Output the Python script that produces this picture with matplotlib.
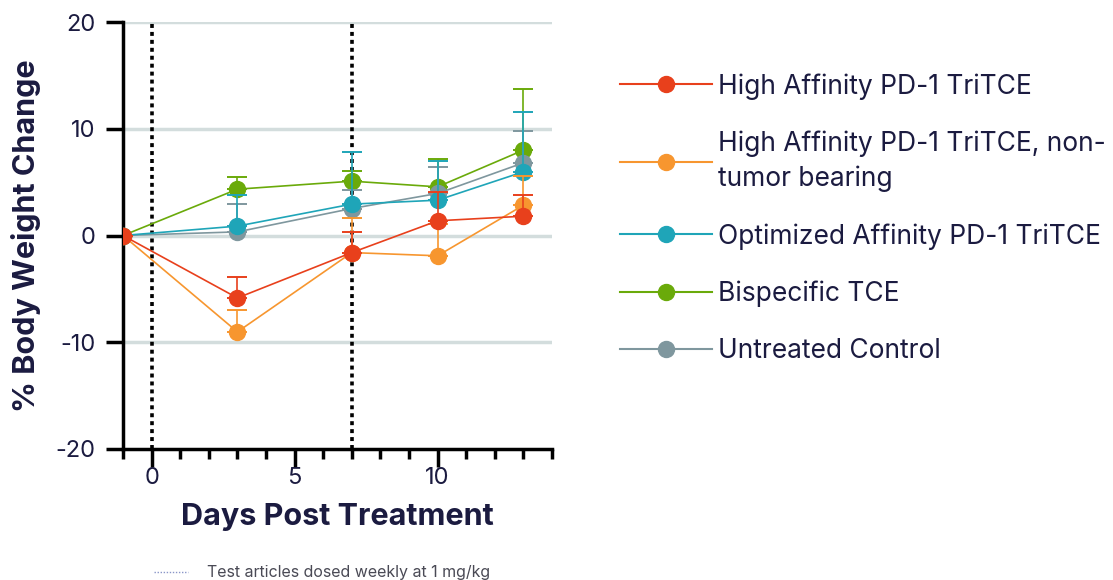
import matplotlib
matplotlib.use("Agg")
import matplotlib.pyplot as plt
from matplotlib.lines import Line2D
import numpy as np

plt.rcParams['font.family'] = ['Inter', 'DejaVu Sans']
plt.rcParams['axes.unicode_minus'] = False

days = [-1, 3, 7, 10, 13]
series_names = [
    "High Affinity PD-1 TriTCE",
    "High Affinity PD-1 TriTCE, non-\ntumor bearing",
    "Optimized Affinity PD-1 TriTCE",
    "Bispecific TCE",
    "Untreated Control",
]
high_aff = [0, -5.85, -1.6, 1.38, 1.81]
high_aff_err = [0, 1.97, 1.94, 2.65, 2.0]
high_aff_nt = [0, -9.03, -1.6, -1.9, 2.84]
high_aff_nt_err = [0, 2.03, 3.2, 3.0, 2.7]
optimized = [0, 0.88, 2.94, 3.31, 5.97]
optimized_err = [0, 2.9, 4.84, 3.66, 5.6]
bispecific = [0, 4.34, 5.09, 4.56, 8.0]
bispecific_err = [0, 1.16, 0.97, 2.6, 5.7]
untreated = [0, 0.34, 2.53, 3.94, 6.81]
untreated_err = [0, 2.6, 1.72, 2.5, 3.0]
dose_days = [0, 7]

colors = ["#e8401c", "#f7962f", "#1fa5b8", "#6aaa0a", "#7f979e"]
values = [high_aff, high_aff_nt, optimized, bispecific, untreated]
errs = [high_aff_err, high_aff_nt_err, optimized_err, bispecific_err, untreated_err]

navy = "#1b1b40"
fig = plt.figure(figsize=(11.13, 5.80), dpi=100)
ax = fig.add_axes([0.1105, 0.2259, 0.3855, 0.7361])

for y in [-10, 0, 10, 20]:
    ax.axhline(y, color="#d3dddd", lw=2.5, zorder=0)
for d in dose_days:
    ax.axvline(d, color="black", lw=2.6, ls=(0, (1.1, 1.1)), zorder=1)

handles = {}
draw_order = [3, 4, 2, 1, 0]
for z, i in enumerate(draw_order):
    v = np.array(values[i]); e = np.array(errs[i])
    ax.errorbar(days, v, yerr=[np.zeros_like(e), e], color=colors[i], lw=1.2,
                elinewidth=1.2, capsize=7, capthick=1.4, marker='o', ms=11.5,
                mec=colors[i], zorder=3 + z)
    handles[i] = Line2D([], [], color=colors[i], lw=1.5, marker='o', ms=11.5)

ax.set_xlim(-1, 14)
ax.set_ylim(-20, 20)
ax.set_xticks([0, 5, 10])
ax.set_xticks(range(-1, 15), minor=True)
ax.set_yticks([-20, -10, 0, 10, 20])
for s in ['top', 'right']:
    ax.spines[s].set_visible(False)
for s in ['left', 'bottom']:
    ax.spines[s].set_linewidth(2.5)
ax.tick_params(axis='y', which='major', length=12, width=2.5, labelsize=17, labelcolor=navy, pad=8)
ax.tick_params(axis='x', which='major', length=13, width=2.5, labelsize=17, labelcolor=navy, pad=0)
ax.tick_params(axis='x', which='minor', length=7, width=2.5)

ax.set_xlabel("Days Post Treatment", fontsize=22, fontweight='bold', color=navy, labelpad=10)
ax.set_ylabel("% Body Weight Change", fontsize=22, fontweight='bold', color=navy, labelpad=10)

leg = fig.legend([handles[i] for i in range(5)], series_names,
                 loc='upper left', bbox_to_anchor=(0.557, 0.874), frameon=False,
                 borderpad=0, borderaxespad=0,
                 fontsize=19, handlelength=3.5, handletextpad=0.23,
                 labelspacing=1.18, labelcolor=navy)
for t in leg.get_texts():
    t.set_linespacing(1.4)

fig.add_artist(Line2D([0.138, 0.169], [0.013, 0.013], transform=fig.transFigure,
                      color="#8a96c8", lw=1.0, ls=(0, (1, 1.2))))
fig.text(0.186, 0.013, "Test articles dosed weekly at 1 mg/kg", fontsize=11.5,
         color="#4a4a55", va='center', ha='left')

fig.savefig("out.png", dpi=100)
